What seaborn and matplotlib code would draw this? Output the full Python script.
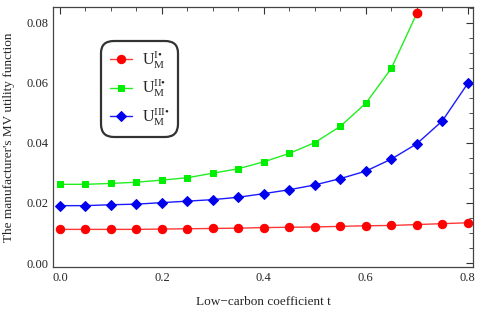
import numpy as np
import pandas as pd
import matplotlib
matplotlib.use("Agg")
import matplotlib.pyplot as plt
import seaborn as sns
from matplotlib.ticker import MultipleLocator

# values
t = [0.0, 0.05, 0.1, 0.15, 0.2, 0.25, 0.3, 0.35, 0.4, 0.45, 0.5, 0.55, 0.6, 0.65, 0.7, 0.75, 0.8]
u1 = [0.0112, 0.0112, 0.0112, 0.0112, 0.0113, 0.0114, 0.0115, 0.0116, 0.0118, 0.0119,
      0.0120, 0.0122, 0.0124, 0.0125, 0.0128, 0.0131, 0.0134]
u2 = [0.0262, 0.0262, 0.0265, 0.0269, 0.0276, 0.0284, 0.0299, 0.0314, 0.0337, 0.0365,
      0.0401, 0.0455, 0.0532, 0.0648, 0.0831]
u3 = [0.0191, 0.0191, 0.0194, 0.0196, 0.0201, 0.0206, 0.0211, 0.0219, 0.0231, 0.0244,
      0.0260, 0.0281, 0.0306, 0.0346, 0.0397, 0.0473, 0.0598]

labels = ['$\\mathrm{U}_{\\mathrm{M}}^{\\mathrm{I\u2022}}$',
          '$\\mathrm{U}_{\\mathrm{M}}^{\\mathrm{II\u2022}}$',
          '$\\mathrm{U}_{\\mathrm{M}}^{\\mathrm{III\u2022}}$']

sns.set_style("white")
plt.rcParams['font.family'] = ['Liberation Serif', 'DejaVu Serif']
plt.rcParams['mathtext.fontset'] = 'custom'
plt.rcParams['mathtext.rm'] = 'Liberation Serif'
plt.rcParams['mathtext.it'] = 'Liberation Serif:italic'
plt.rcParams['mathtext.fallback'] = 'stix'

fig = plt.figure(figsize=(4.86, 3.10), dpi=100)
ax = fig.add_axes([0.109, 0.139, 0.864, 0.838])

d1 = pd.DataFrame({'t': t, 'u': u1})
d2 = pd.DataFrame({'t': t[:len(u2)], 'u': u2})
d3 = pd.DataFrame({'t': t, 'u': u3})

sns.lineplot(data=d1, x='t', y='u', ax=ax, color='#ff3838', lw=1.0, marker='o',
             markersize=6, markerfacecolor='red', markeredgecolor='red', label=labels[0])
sns.lineplot(data=d2, x='t', y='u', ax=ax, color='#22ee22', lw=1.0, marker='s',
             markersize=5, markerfacecolor='#00ee00', markeredgecolor='#00ee00',
             markevery=list(range(len(u2) - 1)), label=labels[1])
# last point of the green curve is drawn with a red dot in the original
ax.plot(d2['t'].iloc[-1:], d2['u'].iloc[-1:], 'o', color='red', markersize=6)
sns.lineplot(data=d3, x='t', y='u', ax=ax, color='#1a1aff', lw=1.0, marker='D',
             markersize=5, markerfacecolor='#0000ee', markeredgecolor='#0000ee', label=labels[2])

ax.set_xlim(-0.0137, 0.81)
ax.set_ylim(-0.0013, 0.0852)
ax.xaxis.set_major_locator(MultipleLocator(0.2))
ax.xaxis.set_minor_locator(MultipleLocator(0.05))
ax.yaxis.set_major_locator(MultipleLocator(0.02))
ax.yaxis.set_minor_locator(MultipleLocator(0.005))
ax.xaxis.set_major_formatter(plt.FuncFormatter(lambda v, p: f"{v:.1f}"))
ax.yaxis.set_major_formatter(plt.FuncFormatter(lambda v, p: f"{v:.2f}"))
ax.tick_params(which='both', direction='in', top=True, right=True, labelsize=9, color='#333333')
ax.tick_params(which='major', length=5, width=0.8)
ax.tick_params(which='minor', length=3, width=0.6)
for s in ax.spines.values():
    s.set_color('#444444')
    s.set_linewidth(0.9)

ax.set_xlabel("Low\u2212carbon coefficient t", fontsize=9.5, labelpad=9)
ax.set_ylabel("The manufacturer's MV utility function", fontsize=9.5, labelpad=8)

leg = ax.legend(loc='upper left', bbox_to_anchor=(0.095, 0.902), fontsize=11.5,
                frameon=True, fancybox=True, handlelength=1.4, handletextpad=0.6,
                labelspacing=0.45, borderpad=0.55)
leg.get_frame().set_edgecolor('black')
leg.get_frame().set_linewidth(1.6)
leg.get_frame().set_boxstyle('round', pad=0.0, rounding_size=0.8)

fig.savefig("out.png", dpi=100)
